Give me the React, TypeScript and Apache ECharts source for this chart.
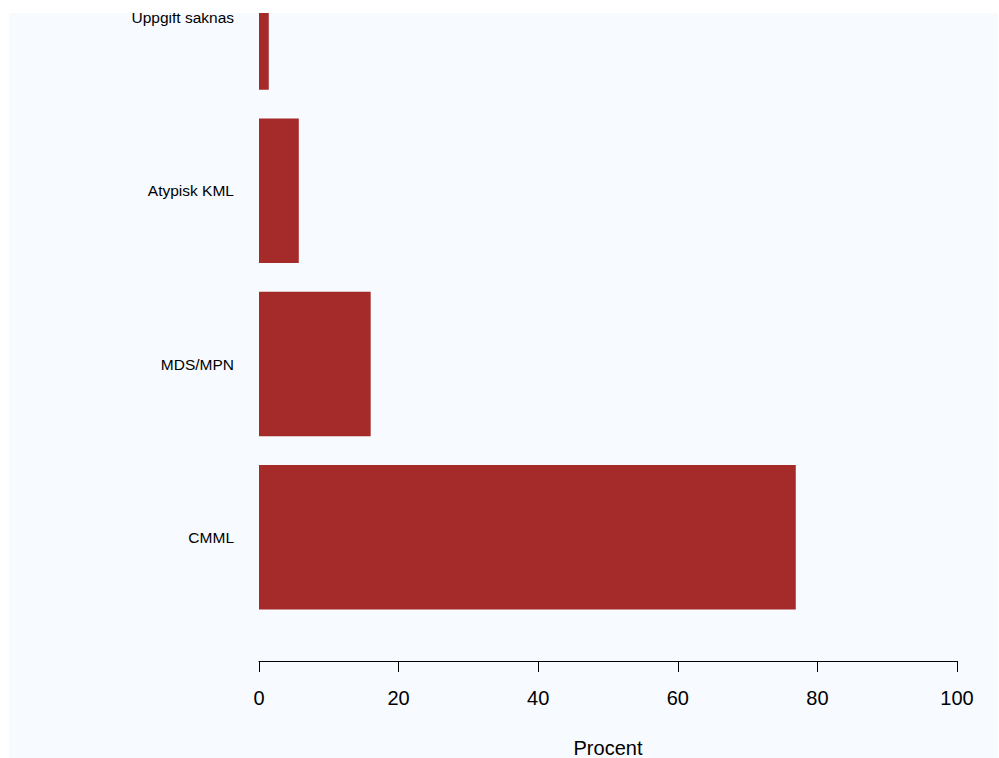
import React, { useEffect, useRef } from "react";
import * as echarts from "echarts";

const categories = ["CMML", "MDS/MPN", "Atypisk KML", "Uppgift saknas"];
const values = [76.9, 16.0, 5.7, 1.4];
const xTicks = { min: 0, max: 100, interval: 20 };
const xName = "Procent";

export default function App() {
  const ref = useRef<HTMLDivElement>(null);
  useEffect(() => {
    if (!ref.current) return;
    const chart = echarts.init(ref.current, undefined, { renderer: "svg" });
    chart.setOption({
      animation: false,
      backgroundColor: "#F7FAFF",
      textStyle: { fontFamily: "Liberation Sans, Arial, sans-serif" },
      grid: {
        left: 250,
        right: 41,
        top: 0.7,
        bottom: 134,
        containLabel: false,
        outerBoundsMode: "none",
      },
      xAxis: {
        type: "value",
        min: xTicks.min,
        max: xTicks.max,
        interval: xTicks.interval,
        offset: 37,
        name: xName,
        nameLocation: "middle",
        nameGap: 77,
        nameTextStyle: { fontSize: 20, color: "#000", fontFamily: "Liberation Sans, Arial, sans-serif" },
        axisLine: { show: true, lineStyle: { color: "#000", width: 1 } },
        axisTick: { show: true, length: 11, lineStyle: { color: "#000", width: 1 } },
        axisLabel: { fontSize: 20, color: "#000", margin: 27, fontFamily: "Liberation Sans, Arial, sans-serif" },
        splitLine: { show: false },
      },
      yAxis: {
        type: "category",
        data: categories,
        axisLine: { show: false },
        axisTick: { show: false },
        axisLabel: { fontSize: 15.5, color: "#000", margin: 25, fontFamily: "Liberation Sans, Arial, sans-serif" },
        splitLine: { show: false },
      },
      series: [
        {
          type: "bar",
          data: values,
          barCategoryGap: "16.6%",
          itemStyle: { color: "#A52A2A" },
        },
      ],
    });
    return () => chart.dispose();
  }, []);
  return (
    <div style={{ position: "fixed", top: 13, left: 9, width: 989, height: 745, overflow: "hidden" }}>
      <div ref={ref} style={{ width: 989, height: 828, marginTop: -83 }} />
    </div>
  );
}
